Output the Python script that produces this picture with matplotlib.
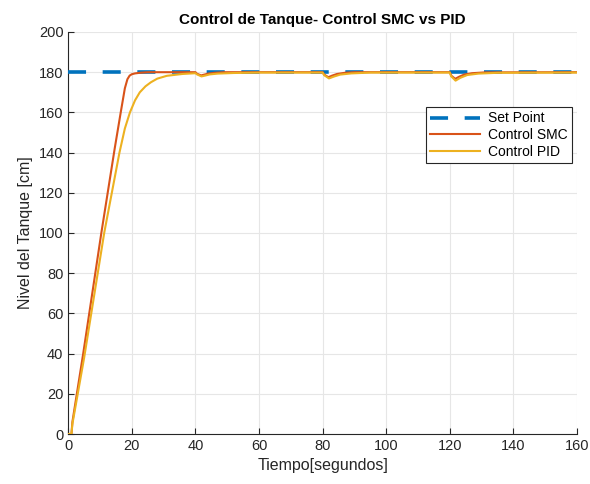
import matplotlib
matplotlib.use("Agg")
import matplotlib.pyplot as plt

plt.rcParams['font.family'] = ['Liberation Sans', 'DejaVu Sans']

# Set point
sp_t = [0, 160]
sp_v = [180, 180]

# SMC response
smc_t = [0, 1.0, 1.3, 4.7, 10.4, 14.6, 16.5, 17.8, 18.6, 19.3, 20.0, 21.0, 22.5, 25,
         40, 40.5, 41.8, 42.8, 44, 46, 49,
         80, 80.5, 81.8, 83, 84.5, 87, 90,
         120, 120.5, 121.7, 123, 124.5, 127, 131, 160]
smc_v = [0, 0, 6, 40, 100, 142, 160, 172, 176.5, 178.3, 179.0, 179.4, 179.7, 180,
         180, 179.2, 178.4, 178.8, 179.3, 179.7, 180,
         180, 178.8, 177.5, 178.3, 179.1, 179.7, 180,
         180, 178.2, 176.7, 177.8, 178.8, 179.5, 179.9, 180]

# PID response
pid_t = [0, 1.0, 1.3, 5, 11.3, 16.1, 17.8, 19.4, 21, 22.5, 24.3, 26, 28, 31, 35.8, 40,
         40.5, 41.9, 43, 44.5, 47, 52, 60,
         80, 80.5, 82.0, 83.5, 85.5, 89, 95,
         120, 120.4, 121.8, 123.3, 125.5, 129, 135, 160]
pid_v = [0, 0, 5, 38, 100, 140, 152, 160, 166, 170, 173, 175, 176.8, 178.2, 179.1, 179.5,
         178.9, 177.9, 178.3, 178.9, 179.3, 179.6, 179.8,
         179.8, 178.5, 176.9, 177.8, 178.8, 179.4, 179.8,
         179.8, 178.0, 175.8, 177.2, 178.6, 179.3, 179.7, 179.8]

fig = plt.figure(figsize=(5.9, 4.84), dpi=100)
ax = fig.add_axes([0.1157, 0.1033, 0.978 - 0.1157, 0.9339 - 0.1033])

ax.plot(sp_t, sp_v, color='#0072BD', lw=2.6, dashes=(5, 4.6), label='Set Point', zorder=3)
ax.plot(smc_t, smc_v, color='#D95319', lw=1.5, label='Control SMC', zorder=4)
ax.plot(pid_t, pid_v, color='#EDB120', lw=1.5, label='Control PID', zorder=5)

ax.set_xlim(0, 160)
ax.set_ylim(0, 200)
ax.set_xticks(range(0, 161, 20))
ax.set_yticks(range(0, 201, 20))
ax.grid(True, color='#e6e6e6', lw=0.8)
ax.set_axisbelow(True)
for s in ['top', 'right']:
    ax.spines[s].set_visible(False)
for s in ['left', 'bottom']:
    ax.spines[s].set_color('#262626')
    ax.spines[s].set_linewidth(0.8)
ax.tick_params(direction='in', length=4, colors='#262626', labelsize=10.5, width=0.8)

ax.set_title('Control de Tanque- Control SMC vs PID', fontsize=11, fontweight='bold', pad=6)
ax.set_xlabel('Tiempo[segundos]', fontsize=11.5, color='#262626')
ax.set_ylabel('Nivel del Tanque [cm]', fontsize=11.5, color='#262626')

leg = ax.legend(loc='upper right', bbox_to_anchor=(1.004, 0.83), fontsize=10,
                frameon=True, fancybox=False, edgecolor='#262626', framealpha=1,
                handlelength=3.6, borderpad=0.3, labelspacing=0.2, handletextpad=0.6)
leg.get_frame().set_linewidth(0.8)

fig.savefig('out.png', dpi=100)
